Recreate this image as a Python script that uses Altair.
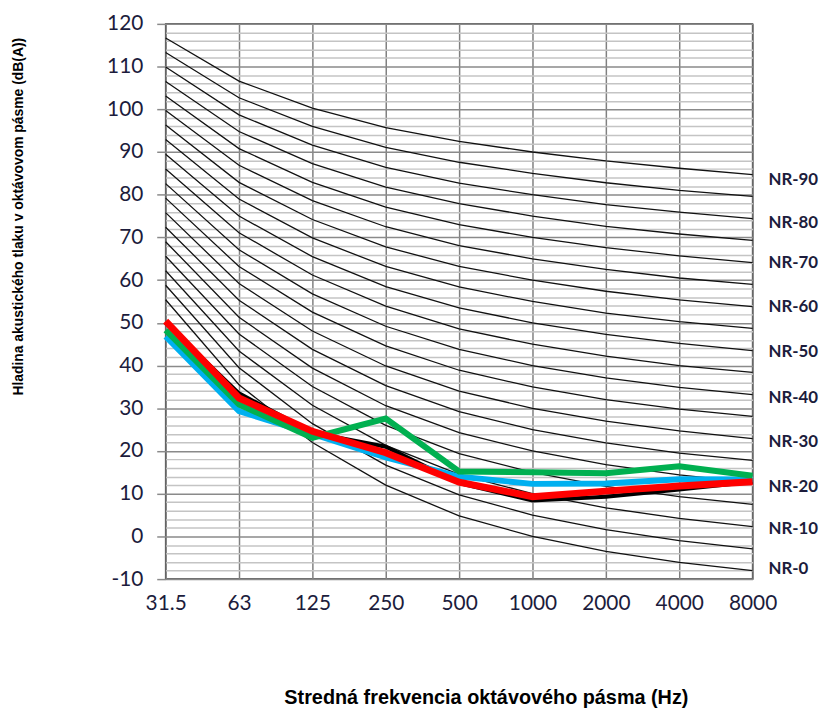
import altair as alt
import pandas as pd

freqs = ["31.5", "63", "125", "250", "500", "1000", "2000", "4000", "8000"]

# NR reference curves (dB) for each octave band
nr_levels = [0, 5, 10, 15, 20, 25, 30, 35, 40, 45, 50, 55, 60, 65, 70, 75, 80, 85, 90]
nr_31_5 = [55.4, 58.8, 62.2, 65.6, 69.0, 72.4, 75.8, 79.2, 82.6, 86.0, 89.5, 92.9, 96.3, 99.7, 103.1, 106.5, 109.9, 113.3, 116.7]
nr_63 = [35.5, 39.5, 43.4, 47.4, 51.3, 55.3, 59.2, 63.2, 67.1, 71.1, 75.0, 79.0, 82.9, 86.9, 90.8, 94.8, 98.7, 102.7, 106.6]
nr_125 = [22.0, 26.4, 30.7, 35.1, 39.4, 43.8, 48.1, 52.5, 56.8, 61.2, 65.5, 69.9, 74.2, 78.6, 82.9, 87.3, 91.6, 96.0, 100.3]
nr_250 = [12.0, 16.7, 21.3, 26.0, 30.6, 35.3, 39.9, 44.6, 49.2, 53.9, 58.5, 63.2, 67.8, 72.5, 77.1, 81.8, 86.4, 91.1, 95.7]
nr_500 = [4.8, 9.7, 14.5, 19.4, 24.3, 29.2, 34.0, 38.9, 43.8, 48.6, 53.5, 58.4, 63.2, 68.1, 73.0, 77.9, 82.7, 87.6, 92.5]
nr_1000 = [0, 5, 10, 15, 20, 25, 30, 35, 40, 45, 50, 55, 60, 65, 70, 75, 80, 85, 90]
nr_2000 = [-3.5, 1.6, 6.7, 11.7, 16.8, 21.9, 27.0, 32.0, 37.1, 42.2, 47.3, 52.3, 57.4, 62.5, 67.6, 72.6, 77.7, 82.8, 87.9]
nr_4000 = [-6.1, -1.0, 4.2, 9.3, 14.4, 19.5, 24.7, 29.8, 34.9, 40.0, 45.2, 50.3, 55.4, 60.5, 65.7, 70.8, 75.9, 81.0, 86.2]
nr_8000 = [-8.0, -2.9, 2.3, 7.5, 12.6, 17.8, 22.9, 28.1, 33.2, 38.4, 43.5, 48.7, 53.8, 59.0, 64.1, 69.3, 74.4, 79.6, 84.7]

# NR curve labels on the right
nr_label_text = ["NR-90", "NR-80", "NR-70", "NR-60", "NR-50", "NR-40", "NR-30", "NR-20", "NR-10", "NR-0"]
nr_label_value = [83.5, 73.3, 63.9, 53.7, 43.2, 32.3, 22.0, 11.6, 1.8, -7.6]

# Measured spectra
series_black = [50.0, 33.5, 24.3, 21.0, 12.5, 8.4, 9.3, 11.0, 12.8]
series_blue = [46.8, 29.3, 24.0, 18.5, 14.0, 12.3, 12.4, 13.4, 13.3]
series_green = [48.3, 30.9, 23.1, 27.6, 15.2, 15.0, 14.8, 16.4, 14.2]
series_red = [50.4, 32.4, 24.6, 19.6, 12.7, 9.3, 10.6, 11.8, 12.8]

band_cols = [nr_31_5, nr_63, nr_125, nr_250, nr_500, nr_1000, nr_2000, nr_4000, nr_8000]
nr_rows = []
for i, lev in enumerate(nr_levels):
    for f, col in zip(freqs, band_cols):
        nr_rows.append({"freq": f, "level": lev, "value": col[i]})
nr_df = pd.DataFrame(nr_rows)

label_df = pd.DataFrame({"freq": ["8000"] * len(nr_label_text), "text": nr_label_text, "value": nr_label_value})

tick_color = "#1c1c3c"
major_test = "datum.value % 10 === 0"

x_enc = alt.X(
    "freq:N",
    sort=freqs,
    scale=alt.Scale(type="point", padding=0, domain=freqs),
    axis=alt.Axis(
        title="Stredná frekvencia oktávového pásma (Hz)",
        labelAngle=0,
        labelFont="Lato",
        labelFontSize=21,
        labelColor=tick_color,
        labelPadding=14,
        labelOverlap=False,
        labelFlush=False,
        ticks=False,
        domain=False,
        grid=True,
        gridColor="#808080",
        gridWidth=1.5,
        titleFont="Liberation Sans",
        titleFontSize=20,
        titleFontWeight="bold",
        titleColor="#000000",
        titleX=323,
        titleY=119,
        titleBaseline="middle",
        titleAlign="center",
    ),
)

y_enc = alt.Y(
    "value:Q",
    scale=alt.Scale(domain=[-10, 120], nice=False, zero=False),
    axis=alt.Axis(
        title="Hladina akustického tlaku v oktávovom pásme (dB(A))",
        values=list(range(-10, 121, 2)),
        labelExpr="datum.value % 10 === 0 ? '' + datum.value : ''",
        labelFont="Lato",
        labelFontSize=21,
        labelColor=tick_color,
        labelPadding=14,
        labelOverlap=False,
        labelFlush=False,
        domain=False,
        grid=True,
        gridColor={"condition": {"test": major_test, "value": "#8a8a8a"}, "value": "#c4c4c4"},
        gridWidth=1.5,
        tickSize=9,
        tickColor={"condition": {"test": major_test, "value": "#8a8a8a"}, "value": "rgba(0,0,0,0)"},
        tickWidth=1.5,
        titleFont="Liberation Sans",
        titleFontSize=14,
        titleFontWeight="bold",
        titleColor="#000000",
        titleX=-148,
        titleY=194,
        titleBaseline="middle",
        titleAlign="center",
    ),
)

nr_lines = alt.Chart(nr_df).mark_line(color="#111111", strokeWidth=1.3).encode(
    x=x_enc, y=y_enc, detail="level:N"
)

layers = [nr_lines]
for vals, color, width in [
    (series_black, "#000000", 4),
    (series_blue, "#00B0F0", 6),
    (series_green, "#00B050", 6),
    (series_red, "#FF0000", 7),
]:
    df = pd.DataFrame({"freq": freqs, "value": vals})
    layers.append(
        alt.Chart(df).mark_line(color=color, strokeWidth=width, strokeJoin="miter").encode(
            x=x_enc, y=y_enc
        )
    )

labels = alt.Chart(label_df).mark_text(
    align="left", baseline="middle", dx=16, font="Lato", fontSize=17, fontWeight="bold", color=tick_color
).encode(x=x_enc, y=y_enc, text="text:N")
layers.append(labels)

chart = alt.layer(*layers).properties(
    width=592,
    height=560,
    autosize=alt.AutoSizeParams(type="none"),
    padding={"left": 159, "top": 13, "right": 70, "bottom": 128},
).configure_view(stroke="#3a3a3a", strokeWidth=1.5)

chart.save("out.html", embed_options={"renderer": "svg", "actions": False})
